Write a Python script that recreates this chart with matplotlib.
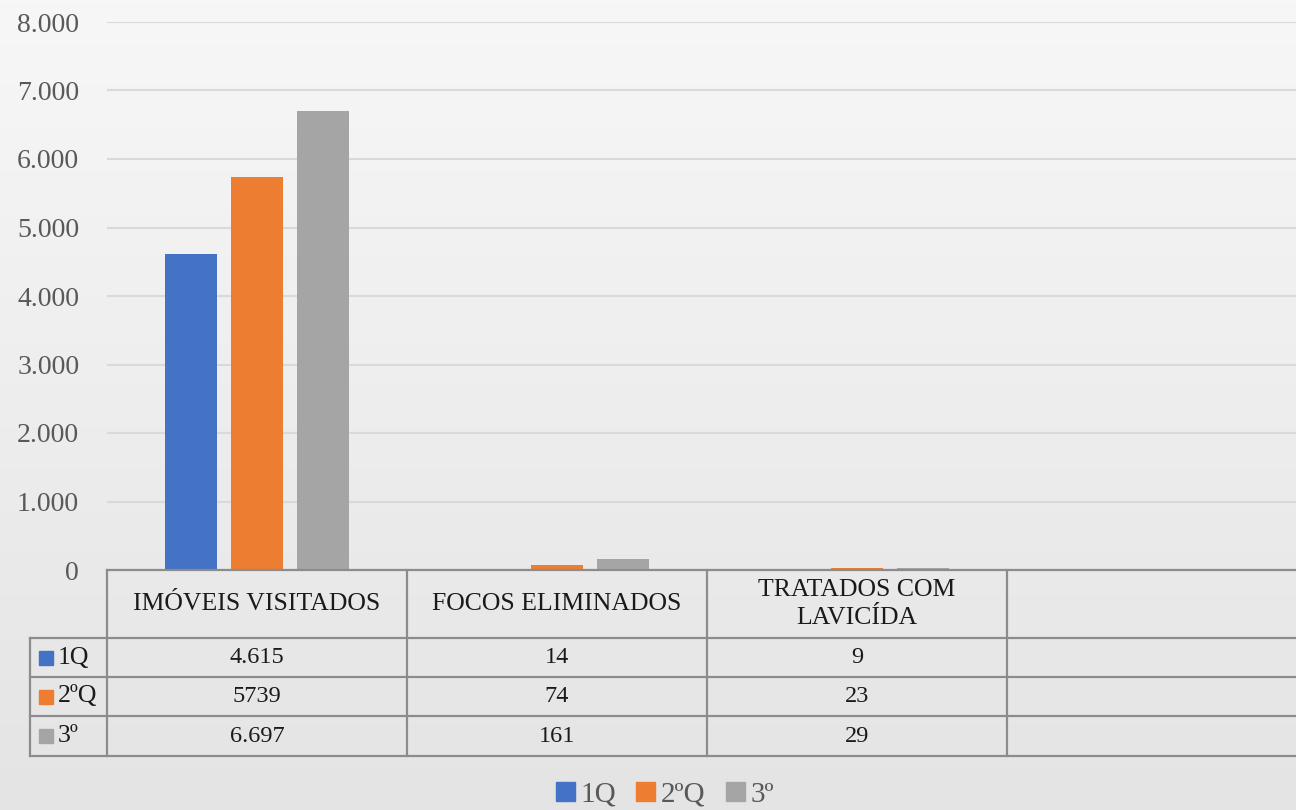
import numpy as np
import matplotlib
matplotlib.use("Agg")
import matplotlib.pyplot as plt
from matplotlib.patches import Patch
from matplotlib.ticker import FuncFormatter

# data
categorias = ["IMÓVEIS VISITADOS", "FOCOS ELIMINADOS", "TRATADOS COM\nLAVICÍDA", ""]
series = ["1Q", "2ºQ", "3º"]
q1 = [4615, 14, 9]
q2 = [5739, 74, 23]
q3 = [6697, 161, 29]
rotulos_q1 = ["4.615", "14", "9"]
rotulos_q2 = ["5739", "74", "23"]
rotulos_q3 = ["6.697", "161", "29"]
cores = ["#4472C4", "#ED7D31", "#A5A5A5"]
yticks = [0, 1000, 2000, 3000, 4000, 5000, 6000, 7000, 8000]

plt.rcParams["font.family"] = ["Liberation Serif", "DejaVu Serif"]

fig = plt.figure(figsize=(12.96, 8.1), dpi=100)

# background gradient
bg = fig.add_axes([0, 0, 1, 1], zorder=-10)
grad = np.linspace(0, 1, 256).reshape(-1, 1)
bg.imshow(grad, aspect="auto", cmap=matplotlib.colors.LinearSegmentedColormap.from_list(
    "bg", ["#f7f7f7", "#e4e4e4"]), extent=[0, 1, 0, 1], origin="upper")
bg.axis("off")

W, H = 1296, 810
ax = fig.add_axes([107 / W, 240 / H, 1200 / W, 548 / H])
ax.set_facecolor("none")

x = np.arange(len(q1))
largura = 0.173
passo = 0.22
for i, (vals, cor) in enumerate(zip([q1, q2, q3], cores)):
    ax.bar(x + (i - 1) * passo, vals, width=largura, color=cor, zorder=3)

ax.set_xlim(-0.5, 3.5)
ax.set_ylim(0, 8000)
ax.set_yticks(yticks)
ax.yaxis.set_major_formatter(FuncFormatter(lambda v, p: f"{int(v):,}".replace(",", ".")))
ax.tick_params(axis="y", length=0, labelsize=20, labelcolor="#595959", pad=20)
ax.tick_params(axis="x", bottom=False, labelbottom=False)
ax.grid(axis="y", color="#d9d9d9", lw=1.5, zorder=0)
for s in ax.spines.values():
    s.set_visible(False)

# data table
tr = ax.get_xaxis_transform()
def fy(py):
    return (570 - py) / 548

lc = "#8c8c8c"
lw = 1.6
ylin = [fy(638), fy(677), fy(716), fy(756)]
xl = -0.5 - 77 / 300
ax.plot([-0.5, 3.5], [0, 0], color=lc, lw=lw, transform=tr, clip_on=False, zorder=4)
for yy in ylin:
    ax.plot([xl, 3.5], [yy, yy], color=lc, lw=lw, transform=tr, clip_on=False)
ax.plot([xl, xl], [ylin[0], ylin[-1]], color=lc, lw=lw, transform=tr, clip_on=False)
for xx in [-0.5, 0.5, 1.5, 2.5]:
    ax.plot([xx, xx], [0, ylin[-1]], color=lc, lw=lw, transform=tr, clip_on=False)

for j, cat in enumerate(categorias):
    ax.text(j, (0 + ylin[0]) / 2, cat, transform=tr, ha="center", va="center",
            fontsize=18.5, color="#1a1a1a", linespacing=1.3)

rotulos = [rotulos_q1, rotulos_q2, rotulos_q3]
for i in range(3):
    yc = (ylin[i] + ylin[i + 1]) / 2
    ax.plot([-0.5 - 61.5 / 300], [yc], marker="s", ms=10, color=cores[i],
            transform=tr, clip_on=False, ls="none")
    ax.text(-0.5 - 49 / 300, yc, series[i], transform=tr, ha="left", va="center",
            fontsize=18.5, color="#1a1a1a")
    for j, r in enumerate(rotulos[i]):
        ax.text(j, yc, r, transform=tr, ha="center", va="center",
                fontsize=17.5, color="#1a1a1a")

handles = [Patch(color=c, label=s) for c, s in zip(cores, series)]
fig.legend(handles=handles, loc="center", bbox_to_anchor=(665 / W, 1 - 795 / H), ncol=3,
           frameon=False, fontsize=21, labelcolor="#595959", handlelength=0.65,
           handleheight=0.65, handletextpad=0.2, columnspacing=0.7)

fig.savefig("out.png", dpi=100)
